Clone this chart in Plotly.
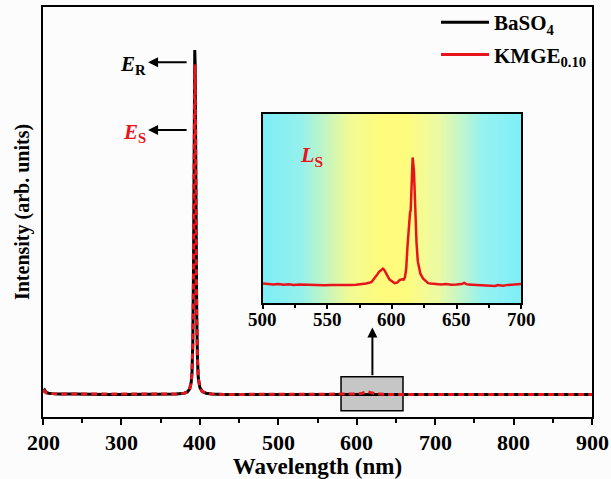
import numpy as np
import plotly.graph_objects as go

# ---- main spectrum (excitation region) ----
wl_main = [200, 202, 204, 207, 212, 220, 240, 260, 280, 300, 320, 340, 360, 370, 380, 384, 387,
           389, 390, 391, 392, 392.5, 393, 393.5, 394, 394.5, 395, 396, 397, 398, 400, 403, 408,
           415, 430, 450, 480, 500, 530, 560, 580, 600, 605, 610, 614, 617, 620, 625, 640, 660,
           680, 700, 730, 760, 800, 830, 860, 900]
baso4 = [0.062, 0.066, 0.060, 0.058, 0.057, 0.056, 0.056, 0.055, 0.055, 0.055, 0.055, 0.055, 0.056,
         0.056, 0.058, 0.061, 0.068, 0.085, 0.110, 0.180, 0.380, 0.600, 0.820, 0.895, 0.860, 0.720,
         0.500, 0.250, 0.140, 0.095, 0.072, 0.062, 0.058, 0.056, 0.055, 0.055, 0.055, 0.055, 0.055,
         0.055, 0.055, 0.055, 0.055, 0.055, 0.055, 0.055, 0.055, 0.055, 0.055, 0.055, 0.055, 0.055,
         0.055, 0.055, 0.055, 0.055, 0.055, 0.055]
kmge = [0.060, 0.064, 0.059, 0.058, 0.057, 0.056, 0.056, 0.055, 0.055, 0.055, 0.055, 0.055, 0.056,
        0.056, 0.058, 0.061, 0.068, 0.084, 0.108, 0.175, 0.370, 0.580, 0.790, 0.860, 0.830, 0.700,
        0.490, 0.245, 0.138, 0.094, 0.072, 0.062, 0.058, 0.056, 0.055, 0.055, 0.055, 0.055, 0.055,
        0.055, 0.055, 0.056, 0.057, 0.059, 0.062, 0.060, 0.058, 0.056, 0.055, 0.055, 0.055, 0.055,
        0.055, 0.055, 0.055, 0.055, 0.055, 0.055]
main_ticks = [200, 300, 400, 500, 600, 700, 800, 900]

# ---- inset: emission of KMGE_0.10 (500-700 nm) ----
wl_ins = [500, 504, 508, 512, 516, 520, 524, 528, 532, 536, 540, 544, 548, 552, 556, 560, 564, 568,
          572, 576, 580, 584, 586, 588, 590, 592, 593, 594, 596, 598, 600, 602, 604, 606, 608, 609,
          610, 611, 612, 613, 614, 614.5, 615, 616, 617, 618, 619, 620, 621, 622, 624, 626, 628, 630,
          634, 638, 642, 646, 650, 654, 656, 658, 662, 666, 670, 674, 678, 680, 682, 686, 690, 694,
          698, 700]
ls_int = [0.103, 0.100, 0.098, 0.101, 0.097, 0.099, 0.096, 0.098, 0.097, 0.095, 0.097, 0.096, 0.094,
          0.096, 0.095, 0.093, 0.096, 0.095, 0.097, 0.099, 0.103, 0.110, 0.125, 0.145, 0.165, 0.180,
          0.182, 0.175, 0.150, 0.125, 0.115, 0.105, 0.108, 0.122, 0.125, 0.124, 0.135, 0.180, 0.300,
          0.420, 0.480, 0.490, 0.600, 0.770, 0.700, 0.500, 0.320, 0.220, 0.180, 0.155, 0.130, 0.115,
          0.105, 0.103, 0.100, 0.098, 0.101, 0.097, 0.098, 0.100, 0.106, 0.099, 0.097, 0.096, 0.095,
          0.094, 0.092, 0.090, 0.095, 0.092, 0.096, 0.098, 0.097, 0.100]
inset_ticks = [500, 550, 600, 650, 700]

FONT = "Liberation Serif"
RED = "#e8141c"
fig = go.Figure()

# inset background gradient (decorative)
gx = np.linspace(500, 700, 201)
fig.add_trace(go.Heatmap(
    x=gx, y=[0, 1], z=[gx, gx], zsmooth="best", showscale=False, hoverinfo="skip",
    colorscale=[[0, "rgb(125,238,248)"], [0.15, "rgb(150,240,235)"], [0.33, "rgb(240,250,150)"],
                [0.45, "rgb(255,252,125)"], [0.55, "rgb(255,252,125)"], [0.68, "rgb(235,250,165)"],
                [0.85, "rgb(150,242,240)"], [1, "rgb(125,238,248)"]],
    xaxis="x2", yaxis="y2", showlegend=False))

fig.add_trace(go.Scatter(x=wl_main, y=baso4, mode="lines", showlegend=False,
                         line=dict(color="black", width=3)))
fig.add_trace(go.Scatter(x=wl_main, y=kmge, mode="lines", showlegend=False,
                         line=dict(color=RED, width=3, dash="6px,4px")))
fig.add_trace(go.Scatter(x=wl_ins, y=ls_int, mode="lines", showlegend=False,
                         line=dict(color=RED, width=2.5), xaxis="x2", yaxis="y2"))
# legend entries (solid lines as in the reference legend)
fig.add_trace(go.Scatter(x=[None], y=[None], mode="lines", name="BaSO<sub>4</sub>",
                         legendgroup="a", line=dict(color="black", width=3)))
fig.add_trace(go.Scatter(x=[None], y=[None], mode="lines", name="KMGE<sub>0.10</sub>",
                         legendgroup="b", line=dict(color=RED, width=3)))

# grey box marking the inset region
fig.add_shape(type="rect", xref="x", yref="y", x0=580, x1=659, y0=0.015, y1=0.098,
              fillcolor="#c6c6c6", line=dict(color="black", width=1.5), layer="below")

ann = []
ann.append(dict(x=620, y=0.218, ax=620, ay=0.098, xref="x", yref="y", axref="x", ayref="y",
                text="", showarrow=True, arrowhead=2, arrowsize=1, arrowwidth=2, arrowcolor="black"))
for yv in (0.865, 0.70):
    ann.append(dict(x=334, y=yv, ax=385, ay=yv, xref="x", yref="y", axref="x", ayref="y",
                    text="", showarrow=True, arrowhead=2, arrowsize=1, arrowwidth=2, arrowcolor="black"))
ann.append(dict(x=334, y=0.858, xref="x", yref="y", showarrow=False, xanchor="right",
                text="<b><i>E</i><sub>R</sub></b>", font=dict(family=FONT, size=21, color="black")))
ann.append(dict(x=334, y=0.693, xref="x", yref="y", showarrow=False, xanchor="right",
                text="<b><i>E</i><sub>S</sub></b>", font=dict(family=FONT, size=21, color=RED)))
ann.append(dict(x=0.135, y=0.86, xref="x2 domain", yref="y2 domain", showarrow=False,
                text="<b><i>L</i><sub>S</sub></b>", font=dict(family=FONT, size=22, color=RED)))

# bold tick labels drawn as annotations at the tick values
for t in main_ticks:
    ann.append(dict(x=t, y=-0.028, xref="x", yref="paper", yanchor="top", showarrow=False,
                    text="<b>%d</b>" % t, font=dict(family=FONT, size=22, color="black")))
for t in inset_ticks:
    ann.append(dict(x=t, y=-0.02, xref="x2", yref="y2 domain", yanchor="top", showarrow=False,
                    text="<b>%d</b>" % t, font=dict(family=FONT, size=19, color="black")))

fig.update_layout(
    width=611, height=479,
    margin=dict(l=43, r=19, t=7, b=62, autoexpand=False),
    paper_bgcolor="#fcfcfc", plot_bgcolor="#fcfcfc",
    font=dict(family=FONT, size=20, color="black"),
    showlegend=True,
    legend=dict(x=1.0, y=1.012, xanchor="right", yanchor="top", bgcolor="rgba(0,0,0,0)",
                font=dict(family=FONT, size=21, color="black", weight="bold"), itemwidth=48,
                tracegroupgap=2),
    annotations=ann,
    xaxis=dict(range=[200, 900], tickvals=main_ticks, showticklabels=False,
               ticks="outside", ticklen=6, tickwidth=2, tickcolor="black",
               minor=dict(tickvals=[250, 350, 450, 550, 650, 750, 850], ticks="outside",
                          ticklen=4, tickwidth=2, tickcolor="black"),
               showline=True, linewidth=2, linecolor="black", mirror=True, showgrid=False,
               zeroline=False,
               title=dict(text="<b>Wavelength (nm)</b>", font=dict(family=FONT, size=23),
                          standoff=36)),
    yaxis=dict(range=[0, 1], showticklabels=False, ticks="", showline=True, linewidth=2,
               linecolor="black", mirror=True, showgrid=False, zeroline=False,
               title=dict(text="<b>Intensity (arb. units)</b>", font=dict(family=FONT, size=20),
                          standoff=6)),
    xaxis2=dict(domain=[0.4007, 0.8707], anchor="y2", range=[500, 700],
                tickvals=inset_ticks, showticklabels=False,
                ticks="outside", ticklen=4, tickwidth=1.5, tickcolor="black",
                minor=dict(tickvals=[525, 575, 625, 675], ticks="outside", ticklen=3,
                           tickwidth=1.5, tickcolor="black"),
                showline=True, linewidth=2, linecolor="black", mirror=True, showgrid=False,
                zeroline=False),
    yaxis2=dict(domain=[0.278, 0.739], anchor="x2", range=[0, 1], showticklabels=False,
                ticks="", showline=True, linewidth=2, linecolor="black", mirror=True,
                showgrid=False, zeroline=False),
)

fig.write_html("out.html")
